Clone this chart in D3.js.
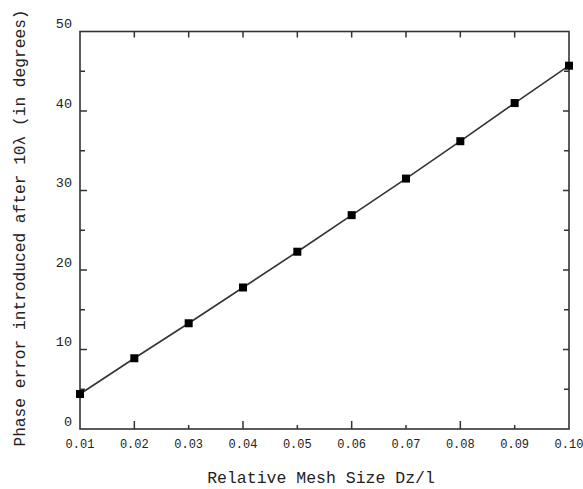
<!DOCTYPE html>
<html>
<head>
<meta charset="utf-8">
<script src="https://cdn.jsdelivr.net/npm/d3@7"></script>
<style>
  body { margin: 0; background: #fff; }
  text { font-family: "Liberation Mono", "Courier New", monospace; fill: #222; }
</style>
</head>
<body>
<svg id="chart" width="583" height="489"></svg>
<script>
// mesh size vs phase error
const meshSize = [0.01, 0.02, 0.03, 0.04, 0.05, 0.06, 0.07, 0.08, 0.09, 0.10]
const phaseError = [4.4, 8.9, 13.3, 17.8, 22.3, 26.9, 31.5, 36.2, 41.0, 45.7]
const xTicks = [0.01, 0.02, 0.03, 0.04, 0.05, 0.06, 0.07, 0.08, 0.09, 0.10]
const xTickLabels = ['0.01', '0.02', '0.03', '0.04', '0.05', '0.06', '0.07', '0.08', '0.09', '0.10']
const yTicks = [0, 10, 20, 30, 40, 50]
const yMinorTicks = [5, 15, 25, 35, 45]

const margin = { top: 31.5, right: 14, bottom: 60, left: 80 }
const width = 583
const height = 489
const svg = d3.select('#chart')

let xScale = d3.scaleLinear()
  .domain([0.01, 0.10])
  .range([margin.left, width - margin.right])

let yScale = d3.scaleLinear()
  .domain([0, 50])
  .range([height - margin.bottom, margin.top])

const axisColor = '#333'

// frame
svg.append('rect')
  .attr('x', xScale(0.01))
  .attr('y', yScale(50))
  .attr('width', xScale(0.10) - xScale(0.01))
  .attr('height', yScale(0) - yScale(50))
  .style('fill', 'none')
  .style('stroke', axisColor)
  .style('stroke-width', 1.6)

// x ticks, bottom and top (inward)
let major = (d, i) => i % 2 === 1
let xTickGroup = svg.append('g').attr('class', 'x-ticks')
xTicks.forEach((d, i) => {
  if (i === 0 || i === xTicks.length - 1) return
  let len = major(d, i) ? 8 : 4
  xTickGroup.append('line')
    .attr('x1', xScale(d)).attr('x2', xScale(d))
    .attr('y1', yScale(0)).attr('y2', yScale(0) - len)
    .style('stroke', axisColor).style('stroke-width', 1.5)
  xTickGroup.append('line')
    .attr('x1', xScale(d)).attr('x2', xScale(d))
    .attr('y1', yScale(50)).attr('y2', yScale(50) + 6)
    .style('stroke', axisColor).style('stroke-width', 1.5)
})

svg.append('g')
  .selectAll('text')
  .data(xTicks)
  .join('text')
  .attr('x', d => xScale(d))
  .attr('y', yScale(0) + 19)
  .attr('text-anchor', 'middle')
  .style('font-size', '12px')
  .text((d, i) => xTickLabels[i])

// y ticks, left and right
let yTickGroup = svg.append('g').attr('class', 'y-ticks')
yTicks.slice(1, -1).forEach(d => {
  yTickGroup.append('line')
    .attr('x1', xScale(0.01)).attr('x2', xScale(0.01) + 7)
    .attr('y1', yScale(d)).attr('y2', yScale(d))
    .style('stroke', axisColor).style('stroke-width', 1.5)
  yTickGroup.append('line')
    .attr('x1', xScale(0.10)).attr('x2', xScale(0.10) - 6)
    .attr('y1', yScale(d)).attr('y2', yScale(d))
    .style('stroke', axisColor).style('stroke-width', 1.5)
})
yMinorTicks.forEach(d => {
  yTickGroup.append('line')
    .attr('x1', xScale(0.01)).attr('x2', xScale(0.01) + 5)
    .attr('y1', yScale(d)).attr('y2', yScale(d))
    .style('stroke', axisColor).style('stroke-width', 1.5)
  yTickGroup.append('line')
    .attr('x1', xScale(0.10)).attr('x2', xScale(0.10) - 5)
    .attr('y1', yScale(d)).attr('y2', yScale(d))
    .style('stroke', axisColor).style('stroke-width', 1.5)
})

svg.append('g')
  .selectAll('text')
  .data(yTicks)
  .join('text')
  .attr('x', 72)
  .attr('y', d => yScale(d) - 3.5)
  .attr('text-anchor', 'end')
  .style('font-size', '13.5px')
  .text(d => d)

// series line
let line = d3.line()
  .x((d, i) => xScale(meshSize[i]))
  .y(d => yScale(d))

svg.append('path')
  .datum(phaseError)
  .attr('d', line)
  .style('fill', 'none')
  .style('stroke', '#333')
  .style('stroke-width', 1.6)

svg.append('g')
  .selectAll('rect')
  .data(phaseError)
  .join('rect')
  .attr('x', (d, i) => xScale(meshSize[i]) - 4)
  .attr('y', d => yScale(d) - 4)
  .attr('width', 8)
  .attr('height', 8)
  .style('fill', '#000')

// axis titles
svg.append('text')
  .attr('x', 321)
  .attr('y', 483)
  .attr('text-anchor', 'middle')
  .style('font-size', '16.5px')
  .text('Relative Mesh Size Dz/l')

svg.append('text')
  .attr('transform', 'translate(25,' + 228 + ') rotate(-90)')
  .attr('text-anchor', 'middle')
  .style('font-size', '16.2px')
  .text('Phase error introduced after 10λ (in degrees)')
</script>
</body>
</html>
